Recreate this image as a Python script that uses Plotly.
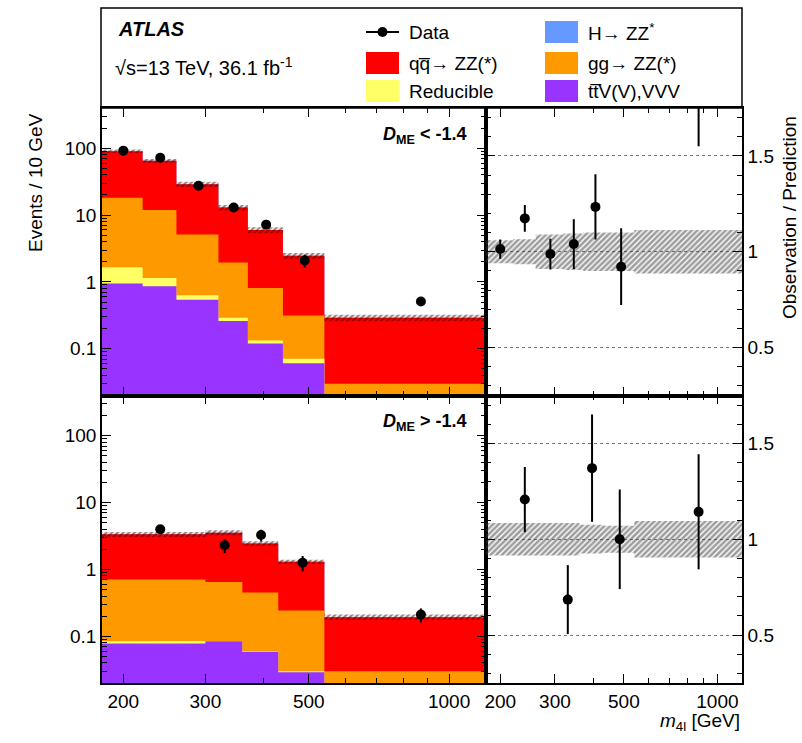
import math
import plotly.graph_objects as go

# ---------------- data (events / 10 GeV) ----------------
edges_top = [180, 220, 260, 320, 370, 440, 540, 1200]
ttv_top = [0.95, 0.86, 0.54, 0.26, 0.12, 0.061, 0.004]
redu_top = [0.71, 0.29, 0.09, 0.03, 0.013, 0.010, 0.001]
gg_top = [16.5, 10.8, 4.5, 1.66, 0.68, 0.245, 0.025]
higgs_top = [0.02, 0.01, 0.01, 0.005, 0.003, 0.002, 0.0005]
qq_top = [72.0, 53.0, 23.7, 11.0, 5.15, 2.14, 0.26]
data_top = [92.0, 72.0, 27.5, 13.0, 7.2, 2.1, 0.51]
data_top_err = [4.6, 4.3, 2.2, 1.6, 1.0, 0.46, 0.07]
ratio_top = [1.014, 1.174, 0.988, 1.04, 1.234, 0.922, 1.78]
ratio_top_err = [0.05, 0.07, 0.08, 0.13, 0.17, 0.20, 0.23]
band_top = [0.06, 0.065, 0.09, 0.095, 0.10, 0.10, 0.113]

edges_bot = [180, 300, 360, 430, 540, 1200]
ttv_bot = [0.078, 0.084, 0.058, 0.029, 0.004]
redu_bot = [0.006, 0.001, 0.001, 0.001, 0.0005]
gg_bot = [0.626, 0.565, 0.391, 0.213, 0.0255]
higgs_bot = [0.002, 0.001, 0.001, 0.001, 0.0002]
qq_bot = [2.64, 2.90, 2.00, 1.057, 0.163]
data_bot = [3.98, 2.3, 3.27, 1.26, 0.211]
data_bot_err = [0.55, 0.55, 0.65, 0.33, 0.05]
ratio_bot = [1.207, 0.685, 1.371, 1.0, 1.143]
ratio_bot_err = [0.17, 0.18, 0.28, 0.26, 0.30]
band_bot = [0.085, 0.085, 0.075, 0.07, 0.095]

x_ticks = [200, 300, 500, 1000]
x_ticktext = ["200", "300", "500", "1000"]
y_ticks = [0.1, 1, 10, 100]
y_ticktext = ["0.1", "1", "10", "100"]
r_ticks = [0.5, 1, 1.5]
r_ticktext = ["0.5", "1", "1.5"]

labels = {
    "data": "Data",
    "higgs": "H\u2192 ZZ<sup>*</sup>",
    "qq": "qq\u0305\u2192 ZZ(*)",
    "gg": "gg\u2192 ZZ(*)",
    "redu": "Reducible",
    "ttv": "tt\u0305V(V),VVV",
}
colors = {
    "higgs": "#6699FF",
    "qq": "#FF0000",
    "gg": "#FF9900",
    "redu": "#FFFF66",
    "ttv": "#9933FF",
}

FONT = "Liberation Sans, Arial, Helvetica, sans-serif"
W, H = 802, 743
ML, MR, MT, MB = 102, 60, 108, 60
PW, PH = W - ML - MR, H - MT - MB


def px(x):
    return (x - ML) / PW


def py(y):
    return (H - MB - y) / PH


FLOOR = 1e-3


def step_poly(edges, lo, hi):
    xs, ys = [], []
    for i in range(len(hi)):
        xs += [edges[i], edges[i + 1]]
        ys += [hi[i], hi[i]]
    for i in reversed(range(len(lo))):
        xs += [edges[i + 1], edges[i]]
        ys += [lo[i], lo[i]]
    xs.append(xs[0])
    ys.append(ys[0])
    return xs, ys


fig = go.Figure()


def add_panel(edges, comps, data, derr, ratio, rerr, band, xa, ya, xr, yr):
    n = len(edges) - 1
    cums = []
    run = [0.0] * n
    for key, vals in comps:
        run = [run[i] + vals[i] for i in range(n)]
        cums.append((key, list(run)))
    for key, cum in reversed(cums):
        xs, ys = step_poly(edges, [FLOOR] * n, cum)
        fig.add_trace(go.Scatter(x=xs, y=ys, mode="lines", fill="toself",
                                 fillcolor=colors[key], line=dict(width=0),
                                 hoverinfo="skip", showlegend=False,
                                 xaxis=xa, yaxis=ya))
    total = cums[-1][1]
    lo = [total[i] * (1 - band[i]) for i in range(n)]
    hi = [total[i] * (1 + band[i]) for i in range(n)]
    xs, ys = step_poly(edges, lo, hi)
    fig.add_trace(go.Scatter(x=xs, y=ys, mode="lines", fill="toself",
                             fillcolor="rgba(0,0,0,0)",
                             fillpattern=dict(shape="/", fgcolor="#3a0a0a",
                                              bgcolor="rgba(0,0,0,0)", size=4, solidity=0.6),
                             line=dict(width=0), hoverinfo="skip", showlegend=False,
                             xaxis=xa, yaxis=ya))
    centers = [(edges[i] + edges[i + 1]) / 2 for i in range(n)]
    fig.add_trace(go.Scatter(x=centers, y=data, mode="markers",
                             marker=dict(color="black", size=10),
                             error_y=dict(type="data", array=derr, color="black",
                                          thickness=2, width=0),
                             showlegend=False, xaxis=xa, yaxis=ya))
    rlo = [1 - b for b in band]
    rhi = [1 + b for b in band]
    xs, ys = step_poly(edges, rlo, rhi)
    fig.add_trace(go.Scatter(x=xs, y=ys, mode="lines", fill="toself",
                             fillcolor="rgba(0,0,0,0)",
                             fillpattern=dict(shape="/", fgcolor="#3c3c3c",
                                              bgcolor="rgba(0,0,0,0)", size=4, solidity=0.65),
                             line=dict(width=0), hoverinfo="skip", showlegend=False,
                             xaxis=xr, yaxis=yr))
    fig.add_trace(go.Scatter(x=centers, y=ratio, mode="markers",
                             marker=dict(color="black", size=10),
                             error_y=dict(type="data", array=rerr, color="black",
                                          thickness=2, width=0),
                             showlegend=False, xaxis=xr, yaxis=yr))


add_panel(edges_top,
          [("ttv", ttv_top), ("redu", redu_top), ("gg", gg_top), ("qq", qq_top), ("higgs", higgs_top)],
          data_top, data_top_err, ratio_top, ratio_top_err, band_top, "x", "y", "x2", "y2")
add_panel(edges_bot,
          [("ttv", ttv_bot), ("redu", redu_bot), ("gg", gg_bot), ("qq", qq_bot), ("higgs", higgs_bot)],
          data_bot, data_bot_err, ratio_bot, ratio_bot_err, band_bot, "x3", "y3", "x4", "y4")

tickfont = dict(family=FONT, size=19, color="black")
common = dict(showline=True, linecolor="black", linewidth=1.5, mirror="allticks",
              ticks="inside", tickcolor="black", ticklen=9, tickwidth=1,
              showgrid=False, zeroline=False, tickfont=tickfont)
xminor = [400, 600, 700, 800, 900]
yminor = [m * 10 ** e for e in range(-2, 3) for m in range(2, 10) if m * 10 ** e <= 400]
xr = [math.log10(180), math.log10(1200)]
yr = [math.log10(0.02), math.log10(400)]


def xaxis(domain, anchor, labels_on):
    return dict(common, type="log", range=xr, domain=domain, anchor=anchor,
                tickmode="array", tickvals=x_ticks, ticktext=x_ticktext,
                showticklabels=labels_on,
                minor=dict(tickmode="array", tickvals=xminor, ticks="inside",
                           ticklen=5, tickcolor="black"))


def yaxis(domain, anchor):
    return dict(common, type="log", range=yr, domain=domain, anchor=anchor,
                tickmode="array", tickvals=y_ticks, ticktext=y_ticktext,
                minor=dict(tickmode="array", tickvals=yminor, ticks="inside",
                           ticklen=5, tickcolor="black"))


def raxis(domain, anchor):
    return dict(common, range=[0.25, 1.75], domain=domain, anchor=anchor, side="right",
                tickmode="array", tickvals=r_ticks, ticktext=r_ticktext,
                showgrid=True, gridcolor="#777777", griddash="dot", gridwidth=1,
                minor=dict(dtick=0.1, tick0=0, ticks="inside", ticklen=5,
                           tickcolor="black", showgrid=False))


fig.update_layout(
    width=W, height=H,
    margin=dict(l=ML, r=MR, t=MT, b=MB, pad=0),
    paper_bgcolor="white", plot_bgcolor="white",
    showlegend=False,
    font=dict(family=FONT, size=19, color="black"),
    xaxis=xaxis([0, 0.6], "y", False),
    yaxis=yaxis([0.5, 1], "x"),
    xaxis2=xaxis([0.6, 1], "y2", False),
    yaxis2=raxis([0.5, 1], "x2"),
    xaxis3=xaxis([0, 0.6], "y3", True),
    yaxis3=yaxis([0, 0.5], "x3"),
    xaxis4=xaxis([0.6, 1], "y4", True),
    yaxis4=raxis([0, 0.5], "x4"),
)

shapes = []
shapes.append(dict(type="rect", xref="paper", yref="paper", x0=px(101), x1=px(742),
                   y0=py(108), y1=py(8), line=dict(color="black", width=1.5)))
annots = []


def text(x, y, s, size=19, anchor="left", angle=0, yanchor="middle"):
    annots.append(dict(x=px(x), y=py(y), xref="paper", yref="paper", text=s,
                       showarrow=False, xanchor=anchor, yanchor=yanchor,
                       textangle=angle, font=dict(family=FONT, size=size, color="black")))


text(116, 29, "<b><i>ATLAS</i></b>", size=20)
text(113, 66, "\u221As=13 TeV, 36.1 fb<sup>-1</sup>", size=20)

col1_box, col2_box = (366, 399), (545, 578)
rows = [32, 63, 91]
shapes.append(dict(type="line", xref="paper", yref="paper", x0=px(col1_box[0]), x1=px(col1_box[1]),
                   y0=py(rows[0]), y1=py(rows[0]), line=dict(color="black", width=2)))
shapes.append(dict(type="circle", xref="paper", yref="paper",
                   x0=px(382.5 - 5), x1=px(382.5 + 5), y0=py(rows[0] - 5), y1=py(rows[0] + 5),
                   fillcolor="black", line=dict(color="black", width=0)))
text(407, rows[0], labels["data"], size=19)
entries = [("higgs", col2_box, rows[0]), ("qq", col1_box, rows[1]), ("gg", col2_box, rows[1]),
           ("redu", col1_box, rows[2]), ("ttv", col2_box, rows[2])]
for key, (b0, b1), ry in entries:
    shapes.append(dict(type="rect", xref="paper", yref="paper", x0=px(b0), x1=px(b1),
                       y0=py(ry + 11), y1=py(ry - 11), fillcolor=colors[key],
                       line=dict(width=0)))
    text(b1 + 8, ry, labels[key], size=19)

text(35, 183, "Events / 10 GeV", size=19, anchor="center", angle=-90)
text(789, 218, "Observation / Prediction", size=19, anchor="center", angle=-90)
text(742, 722, "<i>m</i><sub>4l</sub> [GeV]", size=19, anchor="right")
text(468, 135, "<b><i>D</i><sub>ME</sub> &lt; -1.4</b>", size=18, anchor="right")
text(468, 422, "<b><i>D</i><sub>ME</sub> &gt; -1.4</b>", size=18, anchor="right")

fig.update_layout(shapes=shapes, annotations=annots)
fig.write_html("out.html")
